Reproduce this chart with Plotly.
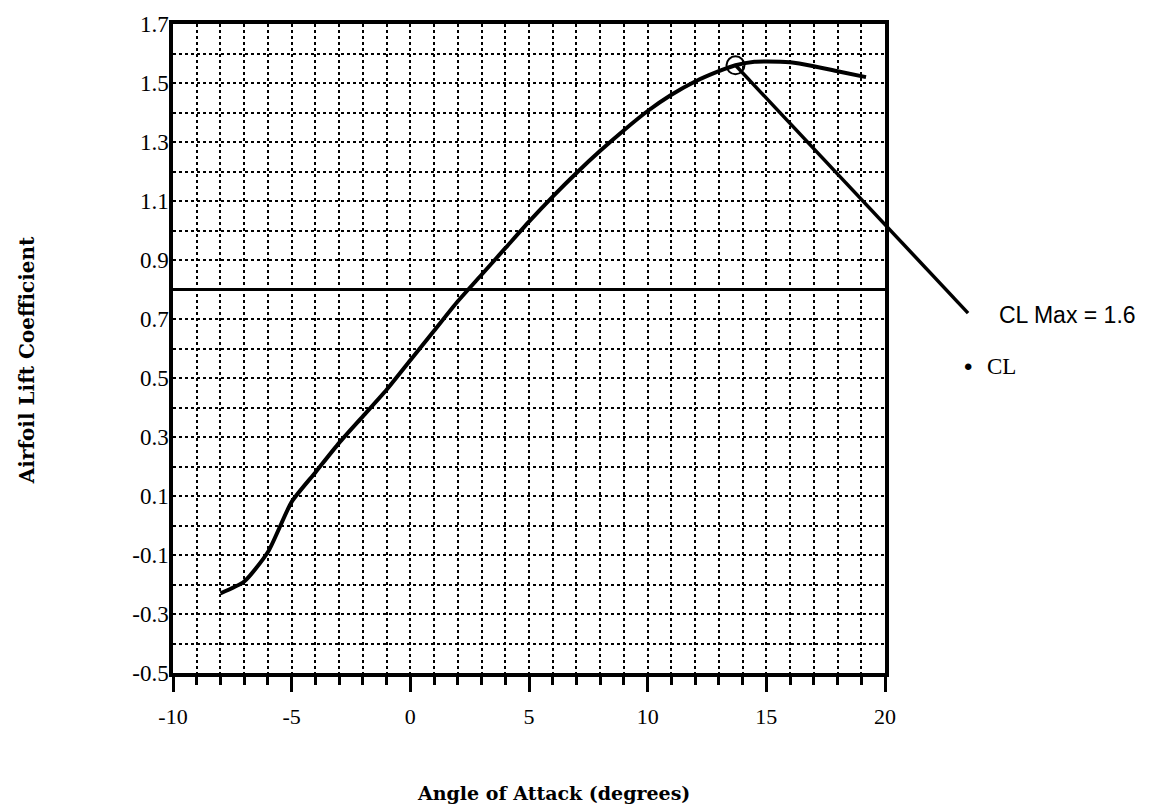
import plotly.graph_objects as go

# ---- data ----
alpha = [-8, -7, -6, -5, -4, -3, -2, -1, 0, 1, 2, 3, 4, 5, 6, 7, 8, 9, 10,
         11, 12, 13, 13.7, 14.5, 15, 16, 17, 18, 19.2]
cl = [-0.23, -0.19, -0.09, 0.08, 0.18, 0.28, 0.37, 0.46, 0.56, 0.66, 0.76,
      0.85, 0.94, 1.03, 1.115, 1.195, 1.27, 1.34, 1.405, 1.46, 1.505, 1.54,
      1.56, 1.572, 1.573, 1.57, 1.557, 1.54, 1.52]
clmax_alpha = [13.7]
clmax_value = [1.56]
ytick_vals = [-0.5, -0.3, -0.1, 0.1, 0.3, 0.5, 0.7, 0.9, 1.1, 1.3, 1.5, 1.7]
ytick_text = ["-0.5", "-0.3", "-0.1", "0.1", "0.3", "0.5", "0.7", "0.9", "1.1", "1.3", "1.5", "1.7"]
xtick_vals = [-10, -5, 0, 5, 10, 15, 20]
xtick_text = ["-10", "-5", "0", "5", "10", "15", "20"]
ref_line_cl = 0.8
leader_end = (23.5, 0.72)   # data-space end of the CL Max leader line

XR = [-10, 20]
YR = [-0.5, 1.7]

def px(x):
    return (x - XR[0]) / (XR[1] - XR[0])

def py(y):
    return (y - YR[0]) / (YR[1] - YR[0])

serif = "Liberation Serif"

fig = go.Figure()
fig.add_trace(go.Scatter(x=alpha, y=cl, mode="lines",
                         line=dict(color="black", width=4, shape="spline", smoothing=0.6),
                         showlegend=False, hoverinfo="skip"))
fig.add_trace(go.Scatter(x=clmax_alpha, y=clmax_value, mode="markers",
                         marker=dict(symbol="circle-open", size=18, color="black",
                                     line=dict(width=2, color="black")),
                         showlegend=False, cliponaxis=False))

# solid reference line across the grid
fig.add_shape(type="line", xref="x", yref="y", x0=XR[0], x1=XR[1], y0=ref_line_cl, y1=ref_line_cl,
              line=dict(color="black", width=3))

# leader line from CL max to label
fig.add_shape(type="line", xref="paper", yref="paper",
              x0=px(clmax_alpha[0]), y0=py(clmax_value[0]),
              x1=px(leader_end[0]), y1=py(leader_end[1]),
              line=dict(color="black", width=3.5))

fig.add_annotation(text="CL Max = 1.6", xref="paper", yref="paper", x=1.158, y=0.552,
                   xanchor="left", yanchor="middle", showarrow=False,
                   font=dict(family="Liberation Sans", size=23, color="black"))
fig.add_annotation(text="•", xref="paper", yref="paper", x=1.1166, y=0.472,
                   xanchor="center", yanchor="middle", showarrow=False,
                   font=dict(family="Liberation Sans", size=24, color="black"))
fig.add_annotation(text="CL", xref="paper", yref="paper", x=1.14, y=0.472,
                   xanchor="left", yanchor="middle", showarrow=False,
                   font=dict(family=serif, size=23, color="black"))

fig.add_annotation(text="<b>Airfoil Lift Coefficient</b>", xref="paper", yref="paper",
                   x=-0.205, y=0.482, textangle=-90, showarrow=False,
                   xanchor="center", yanchor="middle",
                   font=dict(family="DejaVu Serif", size=20, color="black"))
fig.add_annotation(text="<b>Angle of Attack (degrees)</b>", xref="paper", yref="paper",
                   x=0.534, y=-0.185, showarrow=False,
                   xanchor="center", yanchor="middle",
                   font=dict(family="DejaVu Serif", size=19, color="black"))

grid = dict(showgrid=True, gridcolor="black", gridwidth=2, griddash="dot")

fig.update_xaxes(range=XR, tickmode="array", tickvals=xtick_vals, ticktext=xtick_text,
                 ticks="outside", ticklen=15, tickwidth=2.5, tickcolor="black",
                 ticklabelstandoff=6,
                 showline=True, linewidth=3.5, linecolor="black", mirror=True,
                 zeroline=False,
                 tickfont=dict(family=serif, size=22, color="black"),
                 minor=dict(dtick=1, ticks="outside", ticklen=8, tickwidth=2.5,
                            tickcolor="black", **grid),
                 **grid)
fig.update_yaxes(range=YR, tickmode="array", tickvals=ytick_vals, ticktext=ytick_text,
                 ticks="", showline=True, linewidth=3.5, linecolor="black", mirror=True,
                 zeroline=False, ticklabelstandoff=-4,
                 tickfont=dict(family=serif, size=23, color="black"),
                 minor=dict(dtick=0.1, tick0=-0.5, **grid),
                 **grid)

fig.update_layout(width=1164, height=809,
                  margin=dict(l=173, r=279, t=15, b=136),
                  paper_bgcolor="white", plot_bgcolor="white",
                  showlegend=False)

fig.write_html("out.html")
